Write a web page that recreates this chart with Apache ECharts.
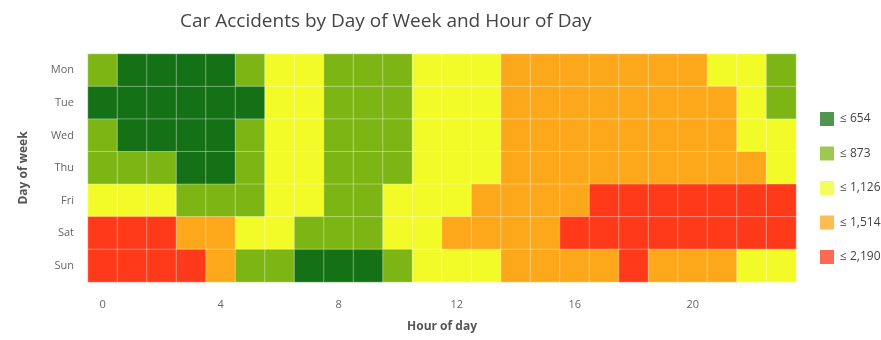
<!DOCTYPE html>
<html>
<head>
<meta charset="utf-8">
<script src="https://cdn.jsdelivr.net/npm/echarts@6/dist/echarts.min.js"></script>
<style>
  html, body { margin: 0; padding: 0; background: #fff; }
  #chart { width: 881px; height: 340px; }
</style>
</head>
<body>
<div id="chart"></div>
<script>
// Day-of-week rows (top to bottom) and hour-of-day columns
const days = ['Mon', 'Tue', 'Wed', 'Thu', 'Fri', 'Sat', 'Sun'];
const hours = Array.from({ length: 24 }, (_, h) => String(h));

// Accident counts per hour (0..23) for each day
const mon = [720, 520, 450, 430, 480, 760, 1010, 1080, 860, 790, 820, 950, 1050, 1100, 1260, 1350, 1420, 1480, 1400, 1300, 1180, 1060, 920, 810];
const tue = [600, 480, 420, 400, 450, 640, 1020, 1110, 850, 780, 810, 940, 1040, 1090, 1240, 1330, 1400, 1460, 1420, 1320, 1220, 1140, 1000, 850];
const wed = [680, 540, 470, 440, 500, 770, 1030, 1100, 860, 800, 830, 960, 1060, 1110, 1270, 1360, 1430, 1490, 1440, 1350, 1250, 1160, 1040, 940];
const thu = [760, 690, 660, 560, 610, 780, 1040, 1120, 870, 810, 840, 980, 1080, 1120, 1290, 1380, 1460, 1510, 1470, 1380, 1290, 1210, 1150, 1020];
const fri = [900, 880, 890, 830, 740, 800, 1050, 1110, 860, 820, 900, 1020, 1110, 1180, 1330, 1420, 1500, 1620, 1700, 1640, 1580, 1560, 1600, 1650];
const sat = [1850, 1900, 1700, 1400, 1200, 960, 920, 840, 800, 860, 960, 1090, 1200, 1320, 1400, 1480, 1560, 1640, 1700, 1720, 1660, 1700, 1780, 1900];
const sun = [2190, 2050, 1900, 1600, 1250, 830, 720, 620, 580, 640, 790, 940, 1050, 1120, 1200, 1300, 1380, 1450, 1530, 1470, 1380, 1200, 1080, 960];

// Colour bins: upper bounds and their colours
const binMax = [654, 873, 1126, 1514, 2190];
const binLabels = ['≤ 654', '≤ 873', '≤ 1,126', '≤ 1,514', '≤ 2,190'];
const binColors = ['#157115', '#7db614', '#f2fb28', '#fda71a', '#fe3a1b'];

// Hour labels shown on the x axis
const hourTicks = ['0', '4', '8', '12', '16', '20'];

const rows = [mon, tue, wed, thu, fri, sat, sun];
const cells = [];
rows.forEach((row, d) => row.forEach((v, h) => cells.push([h, d, v])));

// Same bins for the cell colouring and for the (paler) legend swatches
const makePieces = alpha => binMax.map((mx, i) => ({
  min: i === 0 ? 0 : binMax[i - 1] + 0.0001,
  max: mx,
  label: binLabels[i],
  color: binColors[i],
  colorAlpha: alpha
}));

const font = 'Open Sans';
const chart = echarts.init(document.getElementById('chart'), null, { renderer: 'canvas' });
chart.setOption({
  backgroundColor: '#fff',
  textStyle: { fontFamily: font },
  title: {
    text: 'Car Accidents by Day of Week and Hour of Day',
    left: 175,
    top: 7,
    textStyle: { fontFamily: font, fontSize: 19, fontWeight: 'normal', color: '#444' }
  },
  grid: { left: 88, right: 85, top: 54, bottom: 58 },
  xAxis: {
    type: 'category',
    data: hours,
    name: 'Hour of day',
    nameLocation: 'middle',
    nameGap: 39,
    nameTextStyle: { fontFamily: font, fontSize: 12, fontWeight: 'bold', color: '#555' },
    axisLine: { show: false },
    axisTick: { show: false },
    splitLine: { show: false },
    axisLabel: {
      interval: 0,
      margin: 17,
      color: '#666',
      fontSize: 11,
      formatter: v => (hourTicks.includes(v) ? v : '')
    }
  },
  yAxis: {
    type: 'category',
    data: days,
    inverse: true,
    name: 'Day of week',
    nameLocation: 'middle',
    nameGap: 58,
    nameTextStyle: { fontFamily: font, fontSize: 12, fontWeight: 'bold', color: '#555' },
    axisLine: { show: false },
    axisTick: { show: false },
    splitLine: { show: false },
    axisLabel: { margin: 14, color: '#666', fontSize: 11 }
  },
  visualMap: [
    {
      // colours the heatmap cells
      type: 'piecewise',
      show: false,
      pieces: makePieces(1),
      seriesIndex: 0
    },
    {
      // legend on the right
      type: 'piecewise',
      pieces: makePieces(0.75),
      inverse: true,
      orient: 'vertical',
      align: 'left',
      left: 805,
      top: 97,
      itemWidth: 14,
      itemHeight: 14,
      itemGap: 20.5,
      textGap: 6,
      itemSymbol: 'rect',
      textStyle: { fontFamily: font, fontSize: 12, color: '#444' },
      seriesIndex: 1
    }
  ],
  series: [
    {
      type: 'heatmap',
      data: cells,
      itemStyle: { borderColor: 'rgba(255,255,255,0.35)', borderWidth: 1 },
      emphasis: { disabled: true },
      animation: false
    },
    {
      type: 'heatmap',
      data: [],
      silent: true,
      animation: false
    }
  ]
});
</script>
</body>
</html>
